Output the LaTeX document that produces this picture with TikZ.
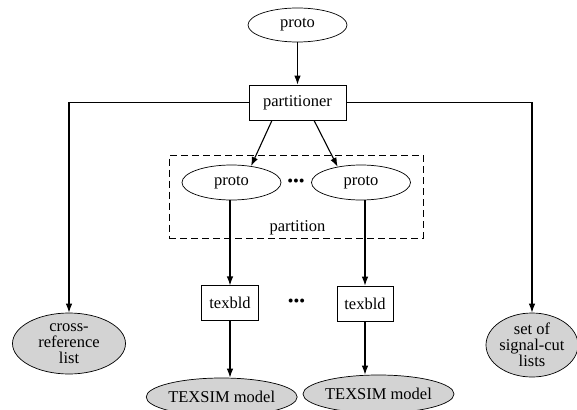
\documentclass[tikz,border=0pt]{standalone}
\usepackage{fontspec}
\setmainfont{Liberation Serif}
\usetikzlibrary{shapes.geometric,arrows.meta}
\definecolor{shade}{RGB}{211,211,211}
\begin{document}
\begin{tikzpicture}[x=1pt,y=-1pt,
  every node/.style={font=\fontsize{16.5}{16}\selectfont},
  el/.style={draw, ellipse, inner sep=0pt, line width=0.7pt},
  gel/.style={el, fill=shade, align=center},
  bx/.style={draw, rectangle, inner sep=0pt, line width=0.7pt},
  arr/.style={line width=1.1pt, -{Latex[length=9pt,width=6.5pt]}},
  grpbox/.style={draw, dashed, dash pattern=on 7pt off 4pt, line width=0.7pt, inner sep=0pt}]
\useasboundingbox (0,0) rectangle (577,409);
% nodes
\node[el, minimum width=99pt, minimum height=34pt] (top) at (297.5,25) {proto};
\node[bx, minimum width=97pt, minimum height=35pt] (part) at (297.5,102.5) {partitioner};
\node[grpbox, minimum width=253.7pt, minimum height=83pt] (grp) at (296.2,196.5) {};
\node[el, minimum width=99pt, minimum height=35pt] (p1) at (231.5,182.5) {proto};
\node[el, minimum width=99pt, minimum height=35pt] (p2) at (361,182.5) {proto};
\node (d1) at (296,183) {•••};
\node (lbl) at (297.5,228) {partition};
\node[bx, minimum width=57pt, minimum height=35pt] (t1) at (230,303.3) {texbld};
\node[bx, minimum width=56pt, minimum height=35pt] (t2) at (365,303.5) {texbld};
\node (d2) at (296.5,303) {•••};
\node[gel, minimum width=150pt, minimum height=38pt] (m1) at (221.7,397) {TEXSIM model};
\node[gel, minimum width=149pt, minimum height=38pt] (m2) at (378.5,394) {TEXSIM model};
\node[gel, minimum width=113pt, minimum height=61pt] (cr) at (69,343.5) {cross-\\reference\\list};
\node[gel, minimum width=91pt, minimum height=64pt] (sc) at (532,345) {set of\\signal-cut\\lists};
% connectors
\draw[arr] (top) -- (part);
\draw[arr] ([xshift=-25.5pt]part.south) -- (p1.40);
\draw[arr] ([xshift=16.5pt]part.south) -- (p2.146);
\draw[arr] (t1.north |- p1.south) -- (t1.north);
\draw[arr] (t2.north |- p2.south) -- (t2.north);
\draw[arr] (t1.south) -- (t1.south |- m1.north);
\draw[arr] (t2.south) -- (t2.south |- m2.north);
\draw[arr] (part.west) -| (cr.north);
\draw[arr] (part.east) -| (sc.north);
\end{tikzpicture}
\end{document}
